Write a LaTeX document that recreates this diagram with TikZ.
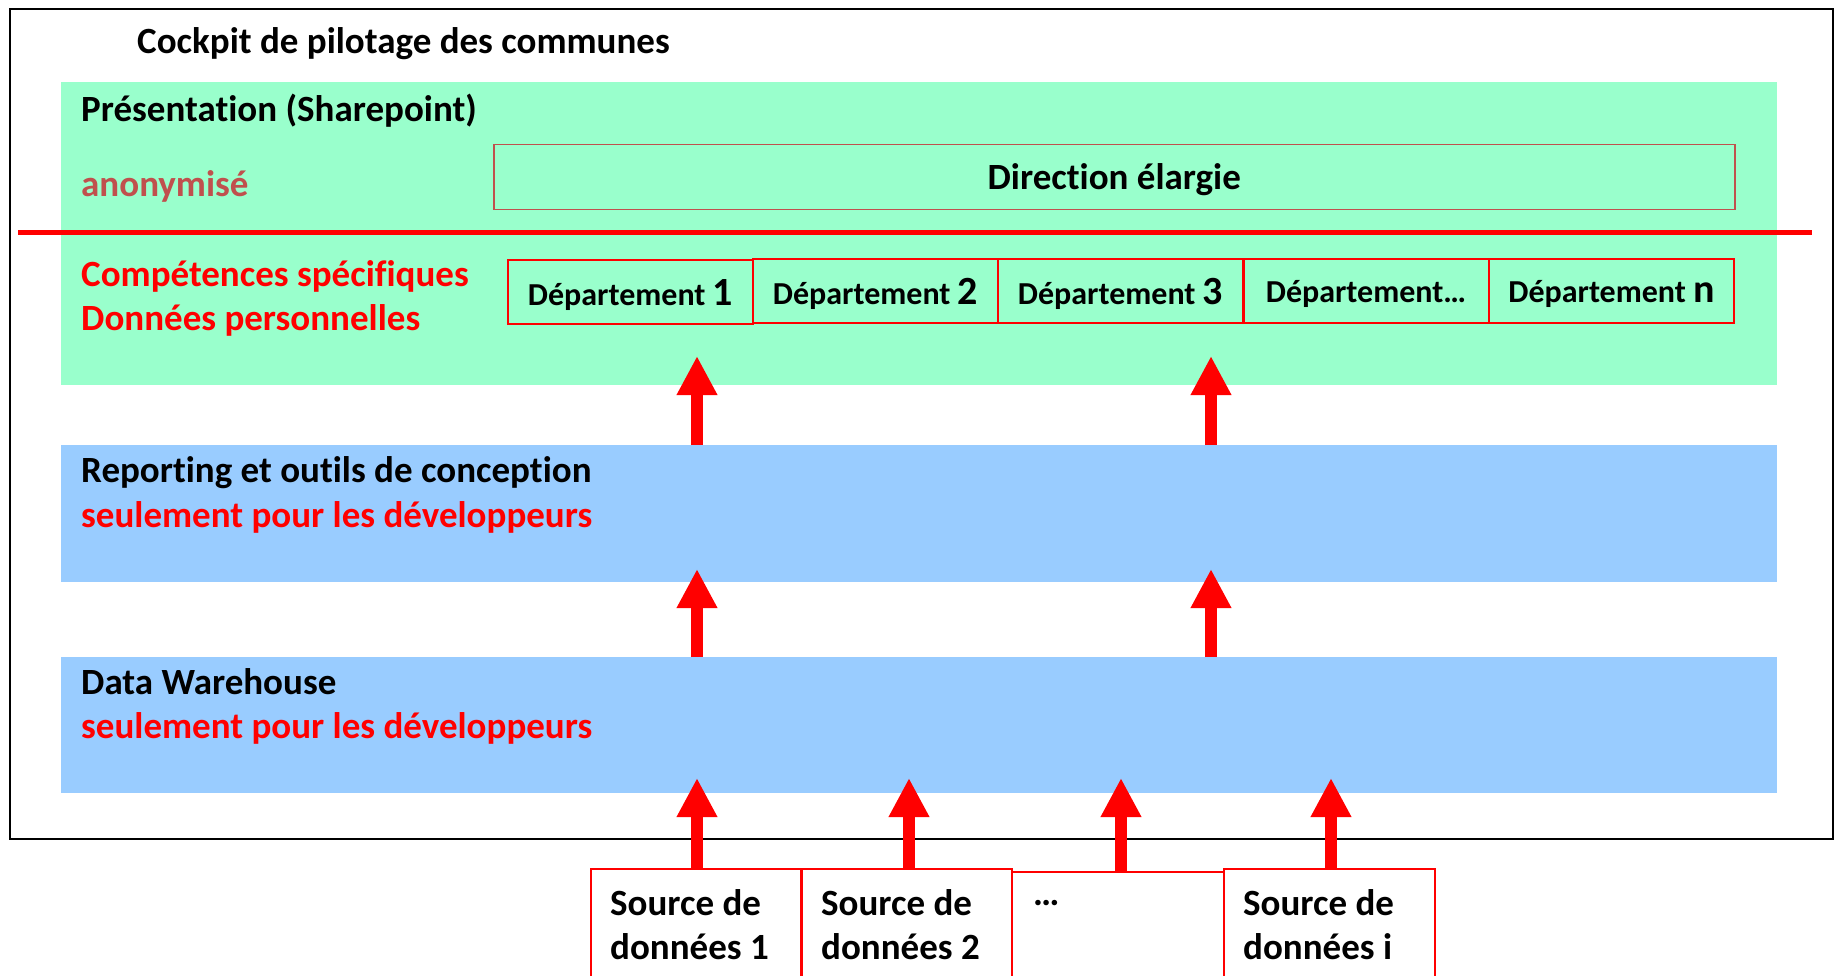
\documentclass[tikz,border=0pt]{standalone}
\usepackage{fontspec}
\setmainfont[Ligatures=NoCommon]{Carlito}
\usetikzlibrary{arrows.meta}
\definecolor{bandgreen}{HTML}{99FFCC}
\definecolor{bandblue}{HTML}{99CCFF}
\definecolor{anon}{HTML}{C0504D}
\begin{document}
\begin{tikzpicture}[x=1pt,y=-1pt,
  font=\bfseries\fontsize{37}{44}\selectfont,
  lbl/.style={anchor=west, inner sep=0pt},
  band/.style={fill=#1, draw=none, inner sep=0pt, anchor=north west, minimum width=1716pt},
  dept/.style={draw=red, line width=2pt, minimum width=245pt, minimum height=63pt, inner sep=0pt},
  depttext/.style={font=\bfseries\fontsize{32}{38}\selectfont, inner sep=0pt},
  srcbox/.style={draw=red, line width=2pt, minimum width=211pt, minimum height=130pt, anchor=north west, inner sep=0pt},
  uparrow/.style={draw=red, line width=12pt, -{Triangle[width=38pt,length=39pt]}}
]
\useasboundingbox (0,0) rectangle (1835,976);
\clip (0,0) rectangle (1835,976);
% outer frame
\node[draw, line width=2pt, anchor=north west, minimum width=1823pt, minimum height=830pt, inner sep=0pt] (frame) at (9,8) {};
\node[lbl] (title) at (137,43.5) {Cockpit de pilotage des communes};
% bands
\node[band=bandgreen, minimum height=303pt] (pres) at (61,82) {};
\node[band=bandblue, minimum height=137pt] (rep) at (61,445) {};
\node[band=bandblue, minimum height=136pt] (dw) at (61,657) {};
% presentation texts
\node[lbl] (prestitle) at (81,110.5) {Présentation (Sharepoint)};
\node[lbl, text=anon] (anonym) at (81,186.5) {anonymisé};
\node[draw=anon, line width=1.5pt, anchor=north west, minimum width=1241pt, minimum height=65pt, inner sep=0pt] (dir) at (493,144) {};
\node (dirtext) at ([yshift=-2.5pt]dir.center) {Direction élargie};
% separator
\coordinate (sepL) at (18,233);
\coordinate (sepR) at (1812,233);
\draw[red, line width=5pt] (sepL) -- (sepR);
\node[lbl, text=red] (comp) at (81,276.5) {Compétences spécifiques};
\node[lbl, text=red] (donp) at (81,320.5) {Données personnelles};
% departments
\node[dept] (d1) at (630.5,292) {};
\node[dept] (d2) at (875.5,291) {};
\node[dept] (d3) at (1120.5,291) {};
\node[dept] (d4) at (1366,291) {};
\node[dept] (d5) at (1611.5,291) {};
\node[depttext] (d1t) at ([yshift=-3pt]d1.center) {Département {\fontsize{40}{40}\selectfont 1}};
\node[depttext] (d2t) at ([yshift=-3pt]d2.center) {Département {\fontsize{40}{40}\selectfont 2}};
\node[depttext] (d3t) at ([yshift=-3pt]d3.center) {Département {\fontsize{40}{40}\selectfont 3}};
\node[depttext] (d4t) at ([yshift=-3pt]d4.center) {Département…};
\node[depttext] (d5t) at ([yshift=-3pt]d5.center) {Département {\fontsize{40}{40}\selectfont n}};
% reporting / dw texts
\node[lbl] (reptitle) at (81,473) {Reporting et outils de conception};
\node[lbl, text=red] (repsub) at (81,517.5) {seulement pour les développeurs};
\node[lbl] (dwtitle) at (81,681.5) {Data Warehouse};
\node[lbl, text=red] (dwsub) at (81,728) {seulement pour les développeurs};
% sources
\node[srcbox] (s1) at (590,868) {};
\node[srcbox] (s2) at (800,868) {};
\node[srcbox, minimum width=212pt] (s3) at (1011,871) {};
\node[srcbox] (s4) at (1223,868) {};
\node[lbl] (s1a) at (610,903) {Source de};
\node[lbl] (s1b) at (610,947) {données 1};
\node[lbl] (s2a) at (821,903) {Source de};
\node[lbl] (s2b) at (821,947) {données 2};
\node[lbl] (s3a) at (1033,903) {…};
\node[lbl] (s4a) at (1243,903) {Source de};
\node[lbl] (s4b) at (1243,947) {données i};
% arrow tips
\coordinate (ta1) at (697,356);
\coordinate (ta2) at (1211,356);
\coordinate (tb1) at (697,569);
\coordinate (tb2) at (1211,569);
\coordinate (tc1) at (697,778);
\coordinate (tc2) at (909,778);
\coordinate (tc3) at (1121,778);
\coordinate (tc4) at (1331,778);
\draw[uparrow] (ta1 |- rep.north) -- (ta1);
\draw[uparrow] (ta2 |- rep.north) -- (ta2);
\draw[uparrow] (tb1 |- dw.north) -- (tb1);
\draw[uparrow] (tb2 |- dw.north) -- (tb2);
\draw[uparrow] (tc1 |- s1.north) -- (tc1);
\draw[uparrow] (tc2 |- s2.north) -- (tc2);
\draw[uparrow] (tc3 |- s3.north) -- (tc3);
\draw[uparrow] (tc4 |- s4.north) -- (tc4);
\end{tikzpicture}
\end{document}
